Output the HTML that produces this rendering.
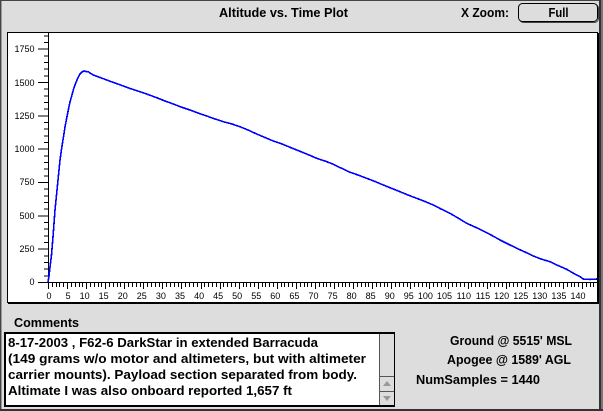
<!DOCTYPE html>
<html><head><meta charset="utf-8"><style>
html,body{margin:0;padding:0;background:#dddddd;}
svg{display:block;}
text{font-family:"Liberation Sans",Arial,sans-serif;}
.b{font-weight:bold;font-size:12.5px;fill:#000;}
.c{font-weight:bold;font-size:13px;fill:#000;}
.t{font-size:9px;fill:#000;}
</style></head><body>
<svg width="603" height="411" viewBox="0 0 603 411" xmlns="http://www.w3.org/2000/svg">
<rect x="0" y="0" width="603" height="411" fill="#dddddd"/>
<!-- window frame -->
<rect x="0" y="0" width="603" height="1" fill="#444"/>
<rect x="0" y="0" width="1" height="411" fill="#444"/>
<rect x="1" y="1" width="1" height="408" fill="#999"/>
<rect x="599" y="0" width="2" height="411" fill="#333"/>
<rect x="601" y="0" width="2" height="411" fill="#777"/>
<rect x="0" y="409" width="603" height="2" fill="#333"/>

<!-- title bar -->
<text class="b" x="219" y="17" textLength="129" lengthAdjust="spacingAndGlyphs">Altitude vs. Time Plot</text>
<text class="b" x="461" y="17" textLength="48" lengthAdjust="spacingAndGlyphs">X Zoom:</text>
<rect x="519.5" y="4.5" width="79" height="18" rx="4" fill="none" stroke="#444" stroke-width="1"/>
<rect x="518.5" y="3.5" width="79" height="18" rx="4" fill="#dddddd" stroke="#000" stroke-width="1"/>
<text class="b" x="548.5" y="17" textLength="20" lengthAdjust="spacingAndGlyphs">Full</text>

<!-- plot box -->
<rect x="7.5" y="32.5" width="590" height="270" fill="#fff" stroke="#000" stroke-width="1"/>
<rect x="598" y="33" width="1" height="271" fill="#000"/>
<rect x="8" y="303" width="591" height="1" fill="#000"/>

<!-- axes -->
<g stroke="#000" stroke-width="1" shape-rendering="crispEdges">
<line x1="48.5" y1="33" x2="48.5" y2="288"/>
<line x1="38" y1="282.5" x2="597" y2="282.5"/>
<path id="yt" d=""/>
</g>
<g id="ticks" stroke="#000" stroke-width="1" shape-rendering="crispEdges"></g>
<g id="labels"></g>

<!-- data -->
<polyline fill="none" stroke="#0000ff" stroke-width="1.6" stroke-linejoin="miter" shape-rendering="crispEdges" points="
48,282 49,276 50,267 51.5,255 53.3,233 55,210 56.7,193 58.5,175 60,160 61.7,148 63.3,138 65,127 66.7,118 68.3,110 70,102 71.7,96 73.3,90 75,85 76.7,80.7 78.3,77 80,74 82,72 84,71 86,71.5 88.3,71.7 90,73 93.3,75 100,77.5 106.7,80 115,83 123.3,86 130,88.5 140,91.7 148,94.5 156.7,97.7 165,101 173.3,104 181,107 190,110 198,113 206.7,116 215,119 223.3,121.7 232,124 240,126.7 248,130 256.7,134 265,137.5 273.3,141 282,144 290,147.3 298,150.5 306.7,154 316.7,158.3 325,161 333.3,164.3 341,168 350,172.3 358,175 366.7,178.3 375,181.5 383.3,185 392,188.5 400,191.7 408,195 416.7,198.3 425,201.5 433.3,205 441,209 450,213.3 458,218 466.7,223.3 475,227 483.3,231 492,235.5 500,240 508,244 516.7,248.3 525,252 533.3,256 541,259 550,261.7 558,265.5 566.7,269.3 573,273 580,276.7 583.3,279 590,279.5 597,279"/>

<!-- comments -->
<text class="b" x="14" y="327" textLength="65" lengthAdjust="spacingAndGlyphs">Comments</text>
<rect x="4" y="332" width="391" height="75" fill="#000"/>
<rect x="6" y="334" width="373" height="71" fill="#fff"/>
<rect x="379" y="334" width="1" height="71" fill="#555"/>
<rect x="380" y="334" width="14" height="71" fill="#dddddd"/>
<rect x="380" y="376" width="14" height="1" fill="#555"/>
<rect x="380" y="391" width="14" height="1" fill="#555"/>
<polygon points="383,386 391,386 387,381" fill="#999"/>
<polygon points="383,396 391,396 387,401" fill="#999"/>
<text class="c" x="8" y="347" textLength="310" lengthAdjust="spacingAndGlyphs">8-17-2003 , F62-6 DarkStar in extended Barracuda</text>
<text class="c" x="8" y="363" textLength="358" lengthAdjust="spacingAndGlyphs">(149 grams w/o motor and altimeters, but with altimeter</text>
<text class="c" x="8" y="379" textLength="349" lengthAdjust="spacingAndGlyphs">carrier mounts).  Payload section separated from body.</text>
<text class="c" x="8" y="395" textLength="284" lengthAdjust="spacingAndGlyphs">Altimate I was also onboard reported 1,657 ft</text>

<!-- stats -->
<text class="b" x="450" y="345" textLength="122" lengthAdjust="spacingAndGlyphs">Ground @ 5515' MSL</text>
<text class="b" x="447" y="364" textLength="124" lengthAdjust="spacingAndGlyphs">Apogee @ 1589' AGL</text>
<text class="b" x="416" y="384" textLength="124" lengthAdjust="spacingAndGlyphs">NumSamples =  1440</text>

<g stroke="#000" stroke-width="1" shape-rendering="crispEdges">
<!-- y ticks every 50 -->
<path d="M44 282.5H48 M44 275.8H48 M44 269.2H48 M44 262.5H48 M44 255.8H48 M38 249.2H48 M44 242.5H48 M44 235.8H48 M44 229.2H48 M44 222.5H48 M38 215.8H48 M44 209.2H48 M44 202.5H48 M44 195.8H48 M44 189.2H48 M38 182.5H48 M44 175.8H48 M44 169.2H48 M44 162.5H48 M44 155.8H48 M38 149.2H48 M44 142.5H48 M44 135.8H48 M44 129.2H48 M44 122.5H48 M38 115.8H48 M44 109.2H48 M44 102.5H48 M44 95.8H48 M44 89.2H48 M38 82.5H48 M44 75.8H48 M44 69.2H48 M44 62.5H48 M44 55.8H48 M38 49.2H48 M44 42.5H48 M44 35.8H48"/>
</g>
<g id="xt" stroke="#000" stroke-width="1" shape-rendering="crispEdges"></g>

<g class="t" text-anchor="end">
<text x="34.5" y="52">1750</text>
<text x="34.5" y="86">1500</text>
<text x="34.5" y="119">1250</text>
<text x="34.5" y="152">1000</text>
<text x="34.5" y="185">750</text>
<text x="34.5" y="219">500</text>
<text x="34.5" y="252">250</text>
<text x="34.5" y="285">0</text>
</g>
<g class="t" text-anchor="end" id="xl"></g>

<script>
(function(){
var ns="http://www.w3.org/2000/svg";
var g=document.getElementById("xt"), xl=document.getElementById("xl");
var d="";
for(var t=0;t<=143;t++){
  var x=Math.round(48+t*3.814)+0.5;
  var len=(t%5==0)?6:4;
  d+="M"+x+" 283V"+(283+len)+" ";
  if(t%5==0){
    var tx=document.createElementNS(ns,"text");
    tx.setAttribute("x",(48+t*3.814+3.5).toFixed(1));
    tx.setAttribute("y","299");
    tx.textContent=String(t);
    xl.appendChild(tx);
  }
}
var p=document.createElementNS(ns,"path");
p.setAttribute("d",d);
g.appendChild(p);
})();
</script>
</svg>
</body></html>
